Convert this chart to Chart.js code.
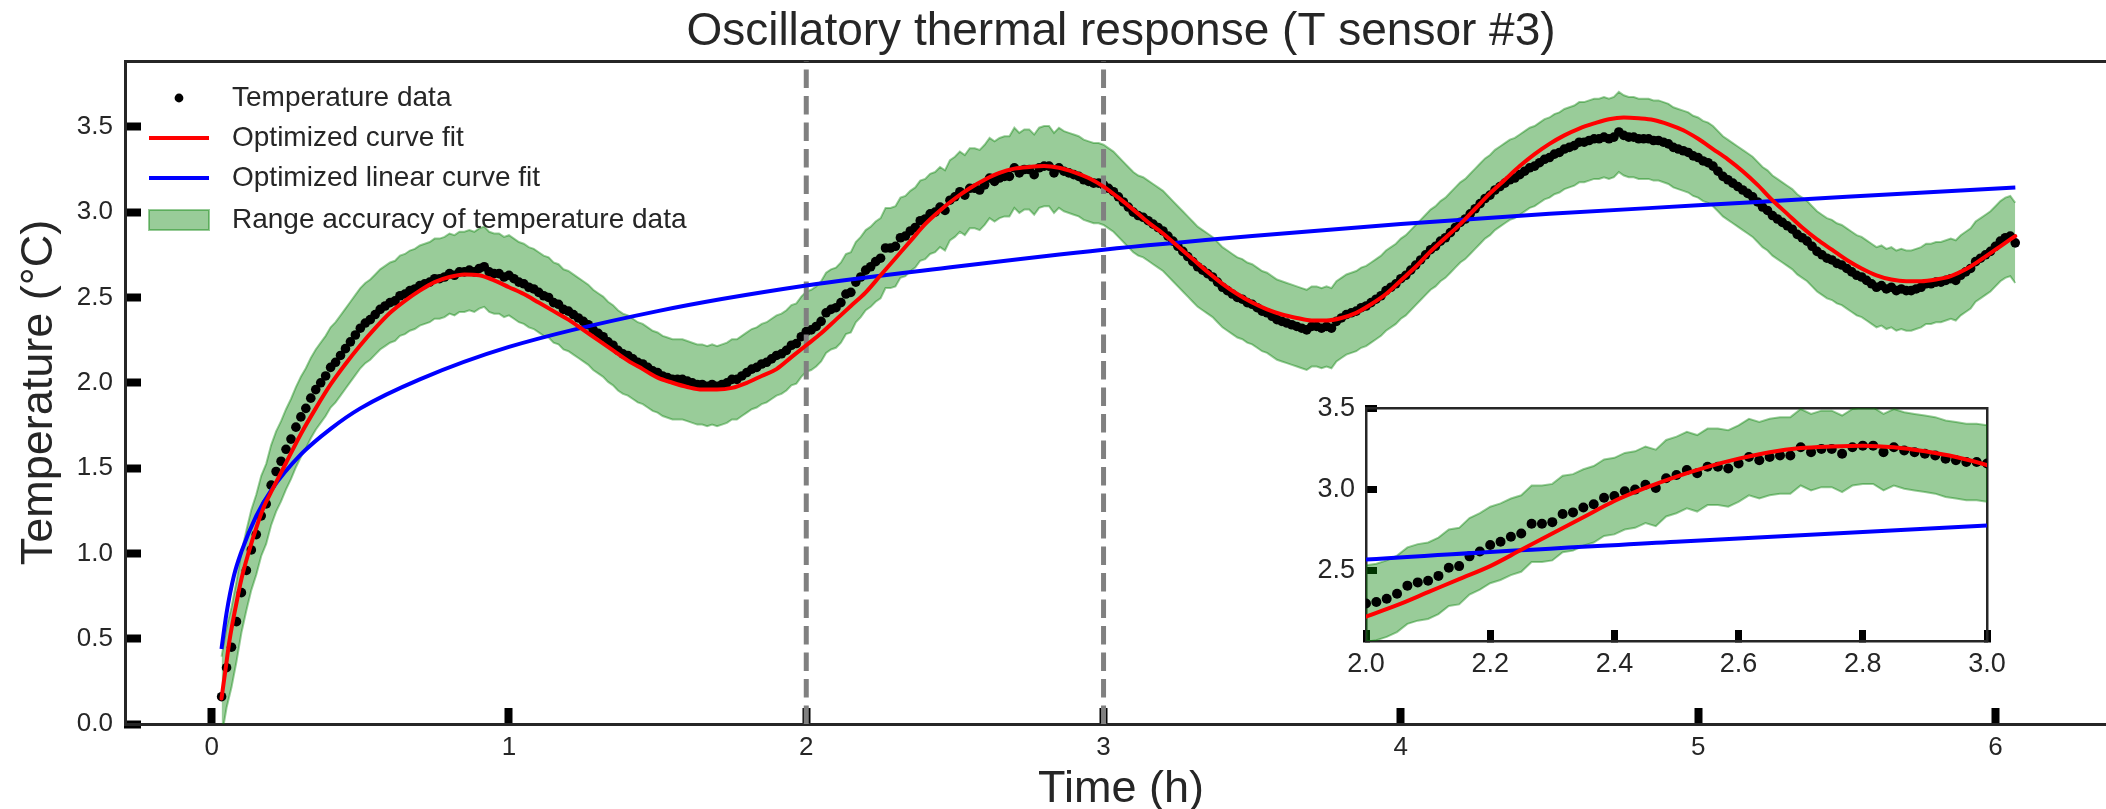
<!DOCTYPE html>
<html>
<head>
<meta charset="utf-8">
<script src="https://cdn.jsdelivr.net/npm/chart.js@4.4.0/dist/chart.umd.min.js"></script>
<style>
  html, body { margin: 0; padding: 0; background: #fff; }
  #wrap { position: relative; width: 2106px; height: 809px; overflow: hidden; }
  #main { position: absolute; left: 0; top: 0; }
  #inset { position: absolute; left: 1270px; top: 370px; }
</style>
</head>
<body>
<div id="wrap">
  <canvas id="main" width="2242" height="830"></canvas>
  <canvas id="inset" width="760" height="320"></canvas>
</div>
<script>
// one sensor reading per minute, first one at minute 2
const FIRST_MINUTE = 2
const TEMP = [
  0.16,0.33,0.45,0.60,0.77,0.90,1.02,1.11,1.22,1.29,1.40,1.48,1.54,1.61,1.67,1.74,1.80,1.85,1.91,1.96,2.00,2.04,2.09,2.12,2.16,2.20,2.24,2.28,2.32,
  2.35,2.37,2.40,2.43,2.45,2.47,2.48,2.51,2.52,2.54,2.55,2.57,2.58,2.59,2.61,2.61,2.62,2.64,2.63,2.65,2.65,2.66,2.65,2.67,2.68,2.65,2.64,2.64,2.62,2.63,
  2.61,2.59,2.58,2.56,2.55,2.53,2.51,2.50,2.47,2.46,2.43,2.42,2.40,2.38,2.36,2.34,2.31,2.29,2.27,2.24,2.22,2.19,2.17,2.16,2.14,2.12,2.11,2.09,2.07,2.06,
  2.04,2.03,2.02,2.02,2.02,2.01,2.00,1.99,1.99,1.98,1.99,1.98,1.99,2.00,2.02,2.02,2.04,2.06,2.08,2.09,2.11,2.12,2.14,2.16,2.17,2.19,2.22,2.23,2.27,2.30,
  2.31,2.33,2.36,2.41,2.43,2.44,2.47,2.52,2.53,2.59,2.62,2.66,2.68,2.71,2.73,2.79,2.79,2.80,2.85,2.86,2.89,2.91,2.95,2.96,2.99,3.00,3.03,3.01,3.07,3.09,
  3.12,3.10,3.14,3.14,3.13,3.16,3.20,3.18,3.20,3.21,3.21,3.26,3.23,3.25,3.25,3.22,3.26,3.27,3.27,3.23,3.26,3.24,3.23,3.22,3.21,3.19,3.18,3.17,3.17,3.16,
  3.14,3.12,3.09,3.06,3.03,3.00,2.98,2.97,2.95,2.93,2.91,2.89,2.86,2.83,2.80,2.77,2.74,2.71,2.68,2.66,2.64,2.62,2.59,2.56,2.54,2.52,2.50,2.49,2.47,2.46,
  2.44,2.42,2.41,2.39,2.37,2.36,2.35,2.34,2.33,2.32,2.31,2.33,2.33,2.32,2.33,2.32,2.36,2.38,2.40,2.41,2.42,2.44,2.45,2.47,2.49,2.51,2.54,2.56,2.58,2.61,
  2.63,2.66,2.69,2.72,2.75,2.78,2.80,2.83,2.85,2.88,2.91,2.94,2.96,2.99,3.02,3.05,3.08,3.10,3.13,3.15,3.17,3.19,3.20,3.22,3.24,3.26,3.27,3.29,3.31,3.32,
  3.34,3.35,3.37,3.38,3.39,3.41,3.41,3.42,3.43,3.43,3.44,3.43,3.44,3.47,3.45,3.44,3.44,3.43,3.43,3.43,3.42,3.42,3.41,3.40,3.38,3.37,3.36,3.35,3.33,3.32,
  3.30,3.29,3.27,3.24,3.21,3.19,3.17,3.15,3.13,3.11,3.09,3.06,3.03,3.01,2.98,2.96,2.94,2.92,2.90,2.87,2.85,2.83,2.80,2.77,2.75,2.73,2.72,2.70,2.69,2.67,
  2.65,2.63,2.62,2.60,2.58,2.56,2.57,2.55,2.56,2.54,2.55,2.54,2.54,2.55,2.56,2.58,2.58,2.59,2.59,2.60,2.61,2.60,2.63,2.65,2.67,2.71,2.73,2.75,2.77,2.80,2.83,2.85,2.86,2.82
]
const TIME_H = TEMP.map((_, i) => (FIRST_MINUTE + i) / 60)
const ACCURACY = 0.235

// optimized (oscillating) curve fit
const FIT_TIME = [0.033,0.045,0.06,0.08,0.1,0.125,0.15,0.175,0.2,
  0.25,0.3,0.35,0.4,0.45,0.5,0.55,0.6,0.65,0.7,0.75,0.8,0.85,0.9,0.95,1.0,
  1.05,1.1,1.15,1.2,1.25,1.3,1.35,1.4,1.45,1.5,1.55,1.6,1.65,1.7,1.75,1.8,1.85,1.9,1.95,2.0,
  2.05,2.1,2.15,2.2,2.25,2.3,2.35,2.4,2.45,2.5,2.55,2.6,2.65,2.7,2.75,2.8,2.85,2.9,2.95,3.0,
  3.05,3.1,3.15,3.2,3.25,3.3,3.35,3.4,3.45,3.5,3.55,3.6,3.65,3.7,3.75,3.8,3.85,3.9,3.95,4.0,
  4.05,4.1,4.15,4.2,4.25,4.3,4.35,4.4,4.45,4.5,4.55,4.6,4.65,4.7,4.75,4.8,4.85,4.9,4.95,5.0,
  5.05,5.1,5.15,5.2,5.25,5.3,5.35,5.4,5.45,5.5,5.55,5.6,5.65,5.7,5.75,5.8,5.85,5.9,5.95,6.0,6.05,6.067]
const FIT_TEMP = [0.15,0.30,0.49,0.68,0.85,1.01,1.15,1.27,1.36,
  1.53,1.70,1.85,1.99,2.11,2.22,2.32,2.41,2.48,2.54,2.59,2.62,2.635,2.63,2.60,2.56,
  2.52,2.47,2.42,2.37,2.31,2.25,2.19,2.13,2.08,2.03,2.00,1.975,1.96,1.96,1.97,2.00,2.04,2.08,2.15,2.22,
  2.29,2.37,2.45,2.53,2.63,2.73,2.83,2.93,3.01,3.08,3.14,3.19,3.23,3.255,3.265,3.27,3.26,3.235,3.20,3.15,
  3.085,3.015,2.94,2.875,2.80,2.725,2.65,2.58,2.52,2.47,2.43,2.40,2.38,2.365,2.365,2.38,2.41,2.46,2.52,2.60,
  2.68,2.77,2.85,2.93,3.02,3.11,3.19,3.27,3.34,3.40,3.45,3.49,3.52,3.545,3.555,3.55,3.54,3.515,3.48,3.43,
  3.37,3.31,3.24,3.16,3.07,2.99,2.91,2.84,2.78,2.72,2.67,2.63,2.605,2.595,2.595,2.605,2.625,2.665,2.72,2.78,2.84,2.86]

// optimized linear (log-time) curve fit
const LIN_TIME = [0.033,0.05,0.075,0.1,0.15,0.2,0.3,0.4,0.5,0.7,1.0,1.5,2.0,2.5,3.0,3.5,4.0,4.5,5.0,5.5,6.067]
const LIN_TEMP = [0.44,0.65,0.87,1.01,1.22,1.37,1.58,1.73,1.85,2.02,2.21,2.42,2.57,2.68,2.78,2.86,2.93,2.99,3.04,3.09,3.145]

const MARK_TIMES = [2, 3]

const X_TICKS = [0, 1, 2, 3, 4, 5, 6]
const Y_TICKS = [0, 0.5, 1, 1.5, 2, 2.5, 3, 3.5]
const INSET_X_TICKS = [2, 2.2, 2.4, 2.6, 2.8, 3]
const INSET_Y_TICKS = [2.5, 3, 3.5]

const LEGEND_LABELS = [
  'Temperature data',
  'Optimized curve fit',
  'Optimized linear curve fit',
  'Range accuracy of temperature data'
]

const FONT = '"Liberation Sans", Arial, Helvetica, sans-serif'
const TEXT = '#262626'
const SPINE = '#262626'
const RED = '#ff0000'
const BLUE = '#0000ff'
const BAND = 'rgba(0, 128, 0, 0.4)'
const DASH = '#808080'

const X_RANGE = [-0.2916, 6.409]
const Y_RANGE = [0, 3.886]
const INSET_X_RANGE = [2, 3]
const INSET_Y_RANGE = [2.07, 3.5]

const pts = (xs, ys) => xs.map((x, i) => ({ x, y: ys[i] }))

function buildDatasets(dotRadius) {
  return [
    {
      data: pts(TIME_H, TEMP.map(v => v + ACCURACY)),
      borderColor: BAND, backgroundColor: BAND, borderWidth: 2,
      pointRadius: 0, fill: '+1', tension: 0, order: 6,
    },
    {
      data: pts(TIME_H, TEMP.map(v => v - ACCURACY)),
      borderColor: BAND, backgroundColor: BAND, borderWidth: 2,
      pointRadius: 0, fill: false, tension: 0, order: 6,
    },
    {
      data: pts(TIME_H, TEMP),
      showLine: false, pointRadius: dotRadius, pointBorderWidth: 0,
      pointBackgroundColor: '#000', order: 4,
    },
    {
      data: pts(LIN_TIME, LIN_TEMP),
      borderColor: BLUE, borderWidth: 4, pointRadius: 0, fill: false,
      cubicInterpolationMode: 'monotone', order: 2,
    },
    {
      data: pts(FIT_TIME, FIT_TEMP),
      borderColor: RED, borderWidth: 4, pointRadius: 0, fill: false,
      cubicInterpolationMode: 'monotone', borderCapStyle: 'round', order: 1,
    },
  ]
}

function tickAxis(range, ticks, fmt, size, tick, pad, extra) {
  return Object.assign({
    type: 'linear',
    min: range[0],
    max: range[1],
    afterBuildTicks: s => { s.ticks = ticks.map(v => ({ value: v })) },
    ticks: {
      padding: pad, color: TEXT, autoSkip: false, maxRotation: 0,
      font: { family: FONT, size: size },
      callback: fmt,
    },
    grid: {
      drawOnChartArea: false, drawTicks: true,
      tickLength: -tick.length, tickWidth: tick.width, tickColor: '#000',
    },
    border: { color: SPINE, width: tick.spine },
  }, extra)
}

function spineOnly(position, range, size) {
  const horizontal = position === 'top' || position === 'bottom'
  return {
    type: 'linear', position, min: range[0], max: range[1],
    afterFit: s => { if (horizontal) s.height = 0; else s.width = 0 },
    ticks: { display: false },
    grid: { display: false, drawTicks: false },
    border: { color: SPINE, width: size },
  }
}

// legend drawn inside the top-left corner of the plot area
const legendInside = {
  id: 'legendInside',
  afterDraw(chart) {
    const { ctx, chartArea } = chart
    const x0 = chartArea.left + 24
    const handleW = 60
    const textX = chartArea.left + 107
    const rows = [37, 77, 117, 159].map(d => chartArea.top + d)
    ctx.save()
    ctx.fillStyle = '#000'
    ctx.beginPath()
    ctx.arc(x0 + handleW / 2, rows[0], 4.4, 0, Math.PI * 2)
    ctx.fill()
    const lineHandles = [[RED, rows[1]], [BLUE, rows[2]]]
    lineHandles.forEach(([color, y]) => {
      ctx.strokeStyle = color
      ctx.lineWidth = 4
      ctx.beginPath()
      ctx.moveTo(x0, y)
      ctx.lineTo(x0 + handleW, y)
      ctx.stroke()
    })
    ctx.fillStyle = BAND
    ctx.fillRect(x0, rows[3] - 10, handleW, 20)
    ctx.strokeStyle = BAND
    ctx.lineWidth = 2
    ctx.strokeRect(x0, rows[3] - 10, handleW, 20)
    ctx.font = '28px ' + FONT
    ctx.fillStyle = TEXT
    ctx.textAlign = 'left'
    ctx.textBaseline = 'middle'
    LEGEND_LABELS.forEach((label, i) => ctx.fillText(label, textX, rows[i]))
    ctx.restore()
  }
}

const markLines = MARK_TIMES.map(t => ({
  data: [{ x: t, y: Y_RANGE[0] }, { x: t, y: Y_RANGE[1] }],
  borderColor: DASH, borderWidth: 5, borderDash: [18.5, 8],
  pointRadius: 0, fill: false, order: 3,
}))

const mainTick = { length: 16, width: 8, spine: 3 }

new Chart(document.getElementById('main'), {
  type: 'line',
  data: { datasets: buildDatasets(4.8).concat(markLines) },
  options: {
    responsive: false,
    devicePixelRatio: 1,
    animation: false,
    events: [],
    layout: { padding: 0 },
    plugins: {
      legend: { display: false },
      tooltip: { enabled: false },
      title: {
        display: true,
        text: 'Oscillatory thermal response (T sensor #3)',
        color: TEXT,
        font: { family: FONT, size: 46, weight: 'normal' },
        padding: { top: 4.4, bottom: 1.4 },
      },
    },
    scales: {
      x: tickAxis(X_RANGE, X_TICKS, v => String(v), 26, mainTick, 24, {
        position: 'bottom',
        afterFit: s => { s.height = 106 },
        title: {
          display: true, text: 'Time (h)', color: TEXT,
          font: { family: FONT, size: 45 },
          padding: { top: 0, bottom: 13.4 },
        },
      }),
      y: tickAxis(Y_RANGE, Y_TICKS, v => v.toFixed(1), 26, mainTick, 28, {
        position: 'left',
        afterFit: s => { s.width = 125 },
        title: {
          display: true, text: 'Temperature (°C)', color: TEXT,
          font: { family: FONT, size: 45 },
          padding: { top: 13, bottom: 0 },
        },
      }),
      xTop: spineOnly('top', X_RANGE, 3),
      yPad: {
        type: 'linear', position: 'right',
        afterFit: s => { s.width = 125 },
        ticks: { display: false },
        grid: { display: false },
        border: { display: false },
      },
    },
  },
  plugins: [legendInside],
})

const insetTick = { length: 11, width: 7, spine: 2.5 }

new Chart(document.getElementById('inset'), {
  type: 'line',
  data: { datasets: buildDatasets(5) },
  options: {
    responsive: false,
    devicePixelRatio: 1,
    animation: false,
    events: [],
    layout: { padding: { top: 22, right: 43, left: 0, bottom: 0 } },
    plugins: {
      legend: { display: false },
      tooltip: { enabled: false },
    },
    scales: {
      x: tickAxis(INSET_X_RANGE, INSET_X_TICKS, v => v.toFixed(1), 27, insetTick, 18, {
        position: 'bottom',
        afterFit: s => { s.height = 49 },
      }),
      y: tickAxis(INSET_Y_RANGE, INSET_Y_TICKS, v => v.toFixed(1), 27, insetTick, 22, {
        position: 'left',
        afterFit: s => { s.width = 96 },
      }),
      xTop: spineOnly('top', INSET_X_RANGE, 2.5),
      yRight: spineOnly('right', INSET_Y_RANGE, 2.5),
    },
  },
})
</script>
</body>
</html>
